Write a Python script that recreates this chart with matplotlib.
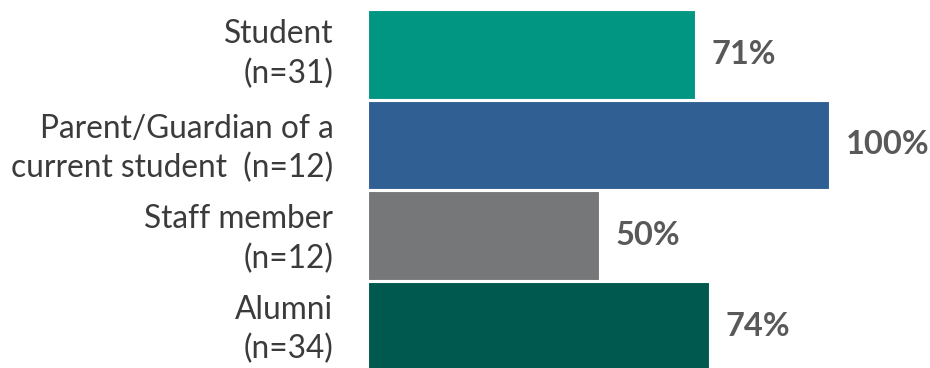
import matplotlib
matplotlib.use("Agg")
import matplotlib.pyplot as plt
from matplotlib.transforms import ScaledTranslation

categories = ["Student\n(n=31)", "Parent/Guardian of a\ncurrent student  (n=12)",
              "Staff member\n(n=12)", "Alumni\n(n=34)"]
values = [71, 100, 50, 74]
colors = ["#009681", "#2f5f93", "#767778", "#00594f"]

plt.rcParams['font.family'] = ['Lato', 'DejaVu Sans']

fig = plt.figure(figsize=(9.3, 3.68), dpi=100)
ax = fig.add_axes([368/930, -3.25/368, 461/930, 362/368])
y = list(range(len(categories)))
ax.barh(y, values, height=0.975, color=colors, edgecolor="white", linewidth=0.8)
ax.set_xlim(0, 100)
ax.set_ylim(len(categories) - 0.5, -0.5)
ax.set_yticks(y)
ax.set_yticklabels(categories, fontsize=22.8, color="#3b3b3b", linespacing=1.37, ha="right")
ax.tick_params(axis="y", length=0, pad=25)
ax.set_xticks([])
for s in ax.spines.values():
    s.set_visible(False)
label_shift_px = [8, 4, 4, 4]
for lab, d in zip(ax.get_yticklabels(), label_shift_px):
    lab.set_transform(lab.get_transform() + ScaledTranslation(0, d / 100, fig.dpi_scale_trans))
for yi, v in zip(y, values):
    ax.annotate(f"{v}%", (v, yi), xytext=(12, 0), textcoords="offset points",
                va="center", ha="left", fontsize=23.5, fontweight="bold", color="#595959")
fig.savefig("out.png", dpi=100)
